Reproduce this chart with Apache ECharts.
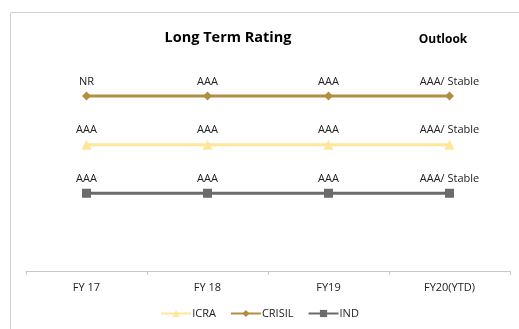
<!DOCTYPE html>
<html><head><meta charset="utf-8">
<script src="https://cdn.jsdelivr.net/npm/echarts@6/dist/echarts.min.js"></script>
<style>html,body{margin:0;padding:0;background:#fff}#c{width:519px;height:329px}</style>
</head><body><div id="c"></div>
<script>
const categories = ['FY 17', 'FY 18', 'FY19', 'FY20(YTD)'];
const icraRatings = ['AAA', 'AAA', 'AAA', 'AAA/ Stable'];
const crisilRatings = ['NR', 'AAA', 'AAA', 'AAA/ Stable'];
const indRatings = ['AAA', 'AAA', 'AAA', 'AAA/ Stable'];
// row levels used only to stack the three agencies vertically
const icraLevel = [2, 2, 2, 2];
const crisilLevel = [3, 3, 3, 3];
const indLevel = [1, 1, 1, 1];

const font = 'Open Sans';
function mk(name, data, labels, color, symbol, size) {
  return {
    name, type: 'line', data, symbol, symbolSize: size,
    lineStyle: { color, width: 3 }, itemStyle: { color },
    label: { show: true, position: 'top', distance: 4, color: '#222', fontSize: 11, fontFamily: font,
      formatter: p => labels[p.dataIndex] },
    emphasis: { disabled: true }, animation: false
  };
}
const chart = echarts.init(document.getElementById('c'));
chart.setOption({
  animation: false,
  graphic: [
    { type: 'rect', shape: { x: 10.5, y: 12.5, width: 520, height: 340 }, style: { fill: 'none', stroke: '#d0d0d0', lineWidth: 1 } },
    { type: 'text', x: 228, y: 38, style: { text: 'Long Term Rating', font: 'bold 14.5px "Open Sans"', fill: '#000', align: 'center', verticalAlign: 'middle' } },
    { type: 'text', x: 443, y: 40, style: { text: 'Outlook', font: 'bold 12px "Open Sans"', fill: '#000', align: 'center', verticalAlign: 'middle' } }
  ],
  grid: { left: 26, right: 9, top: 47.5, bottom: 58 },
  xAxis: {
    type: 'category', data: categories, boundaryGap: true,
    axisLine: { onZero: false, lineStyle: { color: '#c8c8c8', width: 1 } },
    axisTick: { show: true, length: 4, lineStyle: { color: '#c8c8c8' } },
    axisLabel: { color: '#222', fontSize: 11, fontFamily: font, margin: 11 }
  },
  yAxis: { type: 'value', min: -0.6, max: 4, show: false, splitLine: { show: false } },
  legend: {
    bottom: 5, left: 'center', itemWidth: 30, itemHeight: 9, itemGap: 14,
    textStyle: { fontSize: 11, fontFamily: font, color: '#222', padding: [0, 0, 0, -4] },
    data: ['ICRA', 'CRISIL', 'IND']
  },
  series: [
    mk('ICRA', icraLevel, icraRatings, '#FFE699', 'triangle', 10),
    mk('CRISIL', crisilLevel, crisilRatings, '#B38D42', 'diamond', 9),
    mk('IND', indLevel, indRatings, '#6B6B6B', 'rect', 9)
  ]
});
</script></body></html>
